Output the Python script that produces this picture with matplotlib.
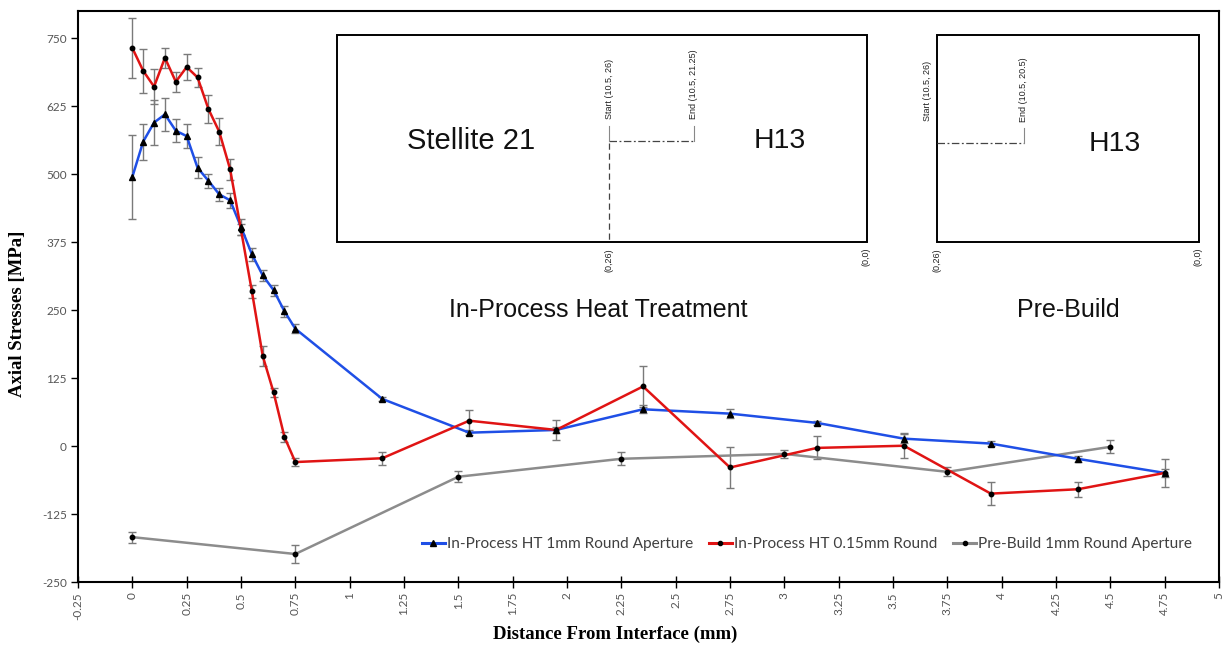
import matplotlib
matplotlib.use("Agg")
import matplotlib.pyplot as plt
from matplotlib.lines import Line2D
from matplotlib.patches import Rectangle

# ---------------- data ----------------
blue_x = [0, 0.05, 0.1, 0.15, 0.2, 0.25, 0.3, 0.35, 0.4, 0.45, 0.5, 0.55, 0.6, 0.65, 0.7, 0.75,
          1.15, 1.55, 1.95, 2.35, 2.75, 3.15, 3.55, 3.95, 4.35, 4.75]
blue_y = [495, 560, 595, 610, 580, 570, 512, 488, 463, 452, 403, 353, 314, 287, 248, 216,
          87, 25, 30, 68, 60, 43, 14, 5, -23, -49]
blue_err = [77, 33, 42, 30, 21, 22, 19, 13, 12, 14, 14, 12, 10, 10, 10, 8,
            4, 5, 5, 7, 8, 4, 8, 5, 5, 8]

red_x = blue_x
red_y = [732, 690, 661, 714, 670, 697, 678, 620, 578, 509, 398, 285, 166, 99, 17, -29,
         -22, 47, 30, 110, -39, -3, 1, -87, -79, -49]
red_err = [55, 40, 32, 18, 18, 24, 17, 26, 25, 19, 10, 12, 19, 8, 10, 8,
           12, 20, 18, 37, 37, 21, 23, 21, 14, 25]

gray_x = [0, 0.75, 1.5, 2.25, 3.0, 3.75, 4.5]
gray_y = [-167, -198, -56, -23, -14, -47, -1]
gray_err = [10, 16, 10, 12, 8, 8, 12]

series_names = ["In-Process HT 1mm Round Aperture",
                "In-Process HT 0.15mm Round",
                "Pre-Build 1mm Round Aperture"]

x_ticks = [-0.25, 0, 0.25, 0.5, 0.75, 1, 1.25, 1.5, 1.75, 2, 2.25, 2.5, 2.75, 3,
           3.25, 3.5, 3.75, 4, 4.25, 4.5, 4.75, 5]
x_tick_labels = ["-0.25", "0", "0.25", "0.5", "0.75", "1", "1.25", "1.5", "1.75", "2",
                 "2.25", "2.5", "2.75", "3", "3.25", "3.5", "3.75", "4", "4.25", "4.5",
                 "4.75", "5"]
y_ticks = [-250, -125, 0, 125, 250, 375, 500, 625, 750]
y_tick_labels = ["-250", "-125", "0", "125", "250", "375", "500", "625", "750"]

# ---------------- figure ----------------
W, H = 1223, 649
fig = plt.figure(figsize=(W / 100, H / 100), dpi=100)

def fx(x):
    return x / W

def fy(y):
    return 1 - y / H

ax = fig.add_axes([fx(78), fy(582.3), fx(1219) - fx(78), fy(11) - fy(582.3)])

BLUE = "#1f4fe6"
RED = "#e01414"
GRAY = "#8c8c8c"
ERRC = "#7a7a7a"

def draw(x, y, e, color, marker, ms):
    ax.errorbar(x, y, yerr=e, fmt="none", ecolor=ERRC, elinewidth=1.0,
                capsize=3.2, capthick=1.0, zorder=2)
    ax.plot(x, y, color=color, lw=1.8, zorder=3)
    ax.plot(x, y, linestyle="none", marker=marker, ms=ms, color="black", zorder=4)

draw(gray_x, gray_y, gray_err, GRAY, "o", 3.2)
draw(blue_x, blue_y, blue_err, BLUE, "^", 4.2)
draw(red_x, red_y, red_err, RED, "o", 3.2)

ax.set_xlim(-0.25, 5)
ax.set_ylim(-250, 800)
ax.set_xticks(x_ticks)
ax.set_xticklabels(x_tick_labels, rotation=90, fontsize=8.5, color="#555555",
                   family="Lato")
ax.set_yticks(y_ticks)
ax.set_yticklabels(y_tick_labels, fontsize=8.5, color="#555555", family="Lato")
ax.tick_params(axis="x", direction="inout", length=8, width=1, color="black", pad=3)
ax.tick_params(axis="y", direction="out", length=5, width=1, color="black", pad=3)
for s in ax.spines.values():
    s.set_linewidth(1.5)
    s.set_color("black")

# axis titles
fig.text(fx(18), fy(314), "Axial Stresses [MPa]", rotation=90, ha="center", va="center",
         fontsize=13.5, fontweight="bold", family="Liberation Serif")
fig.text(fx(615), fy(634), "Distance From Interface (mm)", ha="center", va="center",
         fontsize=13.5, fontweight="bold", family="Liberation Serif")

# legend
handles = [
    Line2D([], [], color=BLUE, lw=2.2, marker="^", ms=4, mfc="black", mec="black"),
    Line2D([], [], color=RED, lw=2.2, marker="o", ms=3, mfc="black", mec="black"),
    Line2D([], [], color=GRAY, lw=2.2, marker="o", ms=3, mfc="black", mec="black"),
]
leg = fig.legend(handles, series_names, loc="center", bbox_to_anchor=(fx(807), fy(544)),
                 ncol=3, frameon=False, handlelength=1.5, handletextpad=0.15,
                 columnspacing=1.0, prop={"family": "Lato", "size": 11.1})
for t in leg.get_texts():
    t.set_color("#404040")

# ---------------- inset schematic ----------------
def rect(x0, y0, x1, y1):
    fig.add_artist(Rectangle((fx(x0), fy(y1)), fx(x1) - fx(x0), fy(y0) - fy(y1),
                             fill=False, edgecolor="black", lw=1.4,
                             transform=fig.transFigure))

def line(xs, ys, **kw):
    fig.add_artist(Line2D([fx(v) for v in xs], [fy(v) for v in ys],
                          transform=fig.transFigure, **kw))

def small(x, y, s, va="bottom"):
    fig.text(fx(x), fy(y), s, rotation=90, ha="center", va=va, fontsize=6.5,
             color="#222222", family="Liberation Sans")

rect(337, 35, 867, 242)
rect(937, 35, 1199, 242)

fig.text(fx(471), fy(141), "Stellite 21", ha="center", va="center", fontsize=21,
         family="Liberation Sans", color="#111111")
fig.text(fx(780), fy(141), "H13", ha="center", va="center", fontsize=20.5,
         family="Liberation Sans", color="#111111")
fig.text(fx(1115), fy(144), "H13", ha="center", va="center", fontsize=20.5,
         family="Liberation Sans", color="#111111")

# box 1 path lines
line([609, 609], [143, 242], color="#444444", lw=0.9, linestyle=(0, (5, 3)))
line([609, 694], [141, 141], color="#444444", lw=0.9, linestyle=(0, (6, 2, 1.5, 2)))
line([609, 609], [126, 141], color="#888888", lw=0.8)
line([694, 694], [126, 141], color="#888888", lw=0.8)
small(609, 119, "Start (10.5, 26)")
small(694, 119, "End (10.5, 21.25)")
small(609, 248, "(0,26)", va="top")
small(866, 248, "(0,0)", va="top")

# box 2 path lines
line([937, 1024], [143, 143], color="#444444", lw=0.9, linestyle=(0, (6, 2, 1.5, 2)))
line([1024, 1024], [128, 143], color="#888888", lw=0.8)
small(927, 121, "Start (10.5, 26)")
small(1024, 122, "End (10.5, 20.5)")
small(937, 248, "(0,26)", va="top")
small(1198, 248, "(0,0)", va="top")

fig.text(fx(598), fy(310), "In-Process Heat Treatment", ha="center", va="center",
         fontsize=18, family="Liberation Sans", color="#111111")
fig.text(fx(1068), fy(310), "Pre-Build", ha="center", va="center",
         fontsize=18, family="Liberation Sans", color="#111111")

fig.savefig("out.png", dpi=100)
